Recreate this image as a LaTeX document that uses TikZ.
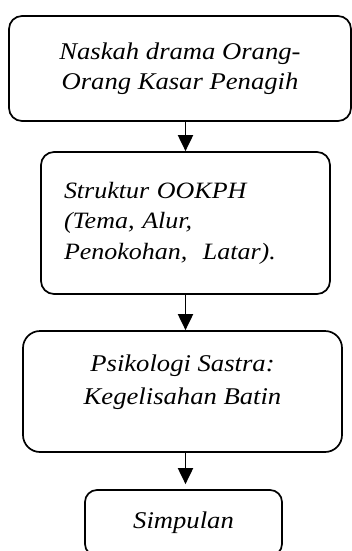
\documentclass[tikz,border=0pt]{standalone}
\usepackage{fontspec}
\setmainfont{Liberation Serif}
\newfontfamily\flowfont[FakeStretch=1.11]{Liberation Serif}
\usetikzlibrary{arrows.meta}

\tikzset{
  box/.style={draw=black, line width=1.7pt, rounded corners=13pt, inner sep=0pt,
    font=\flowfont\itshape\fontsize{24}{30}\selectfont},
  flow/.style={line width=1.9pt, -{Triangle[width=15pt,length=16pt]}}
}

\begin{document}
\begin{tikzpicture}[x=1pt,y=-1pt]
\clip (0,0) rectangle (352,551);

\coordinate (c1) at (180,68.5);
\coordinate (c2) at (185.5,223);
\coordinate (c3) at (182.5,391.5);
\coordinate (c4) at (183.5,523);

% script box
\node[box, minimum width=342pt, minimum height=105pt, align=center] (naskah) at (c1)
  {Naskah drama Orang-\\Orang Kasar Penagih};
% structure box
\node[box, minimum width=289pt, minimum height=142pt, align=left, text width=243pt,
  font=\flowfont\itshape\fontsize{23.4}{30.5}\selectfont] (struktur) at (c2)
  {Struktur OOKPH\\(Tema, Alur,\\Penokohan,~ Latar).};
% psychology box
\node[box, rounded corners=17pt, minimum width=319pt, minimum height=121pt, align=center,
  font=\flowfont\itshape\fontsize{24}{33}\selectfont] (psikologi) at (c3)
  {Psikologi Sastra:\\Kegelisahan Batin\\[-9pt]\mbox{}};
% conclusion box
\node[box, rounded corners=12pt, minimum width=197pt, minimum height=66pt] (simpulan) at (c4) {Simpulan};

% arrows
\draw[flow] (naskah.south -| struktur.north) -- (struktur.north);
\draw[flow] (struktur.south) -- (struktur.south |- psikologi.north);
\draw[flow, shorten >=5pt] (psikologi.south -| struktur.south) -- (simpulan.north -| struktur.south);

\end{tikzpicture}
\end{document}
